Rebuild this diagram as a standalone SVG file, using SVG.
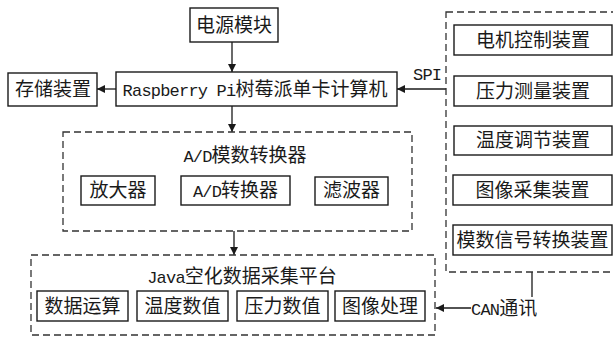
<svg xmlns="http://www.w3.org/2000/svg" width="613" height="337" viewBox="0 0 613 337">
<defs>
<style>
.box{fill:#fff;stroke:#1a1a1a;stroke-width:1.4}
.dash{fill:none;stroke:#333;stroke-width:1.3;stroke-dasharray:7 4}
.ln{fill:none;stroke:#1a1a1a;stroke-width:1.3}
text{font-family:"Liberation Mono","Noto Sans CJK SC",monospace;font-size:19px;fill:#1a1a1a}
.c{text-anchor:middle}
.lat{font-size:17px;letter-spacing:-0.8px}
</style>
<marker id="ah" viewBox="0 0 10 10" refX="10" refY="5" markerWidth="8" markerHeight="8" markerUnits="userSpaceOnUse" orient="auto">
<path d="M0,0 L10,5 L0,10 z" fill="#1a1a1a"/>
</marker>
</defs>
<rect width="613" height="337" fill="#fff"/>

<g id="connectors">
<line class="ln" x1="232" y1="42" x2="232" y2="72" marker-end="url(#ah)"/>
<line class="ln" x1="116" y1="89" x2="97" y2="89" marker-end="url(#ah)"/>
<line class="ln" x1="232" y1="106" x2="232" y2="132" marker-end="url(#ah)"/>
<line class="ln" x1="446" y1="89" x2="397" y2="89" marker-end="url(#ah)"/>
<line class="ln" x1="234" y1="231" x2="234" y2="255" marker-end="url(#ah)"/>
<line class="ln" x1="532" y1="272" x2="532" y2="297"/>
<line class="ln" x1="471" y1="308" x2="436" y2="308" marker-end="url(#ah)"/>
<text x="413" y="80" class="lat">SPI</text>
<text x="471" y="315"><tspan class="lat">CAN</tspan>通讯</text>
</g>

<g id="power">
<rect class="box" x="190" y="8" width="88" height="34"/>
<text class="c" x="234" y="31.5">电源模块</text>
</g>

<g id="rpi">
<rect class="box" x="116" y="72" width="281" height="34"/>
<text class="c" x="255" y="95.5"><tspan class="lat">Raspberry Pi</tspan>树莓派单卡计算机</text>
</g>

<g id="storage">
<rect class="box" x="8" y="73" width="89" height="33"/>
<text class="c" x="53" y="96">存储装置</text>
</g>

<g id="ad">
<rect class="dash" x="63" y="132" width="349" height="99"/>
<text class="c" x="245" y="161.5"><tspan class="lat">A/D</tspan>模数转换器</text>
<rect class="box" x="81" y="176" width="74" height="29"/>
<text class="c" x="118" y="197">放大器</text>
<rect class="box" x="181" y="176" width="109" height="29"/>
<text class="c" x="235.5" y="197"><tspan class="lat">A/D</tspan>转换器</text>
<rect class="box" x="315" y="177" width="73" height="28"/>
<text class="c" x="351.5" y="197">滤波器</text>
</g>

<g id="java">
<rect class="dash" x="31" y="255" width="404" height="80"/>
<text class="c" x="242" y="282.5"><tspan class="lat">Java</tspan>空化数据采集平台</text>
<rect class="box" x="37" y="291" width="91" height="30"/>
<text class="c" x="82.5" y="312.5">数据运算</text>
<rect class="box" x="137" y="291" width="91" height="30"/>
<text class="c" x="182.5" y="312.5">温度数值</text>
<rect class="box" x="237" y="291" width="91" height="30"/>
<text class="c" x="282.5" y="312.5">压力数值</text>
<rect class="box" x="335" y="291" width="90" height="30"/>
<text class="c" x="380" y="312.5">图像处理</text>
</g>

<g id="devices">
<rect class="dash" x="446" y="12" width="172" height="260"/>
<rect class="box" x="454" y="25" width="158" height="30"/>
<text class="c" x="533" y="46.5">电机控制装置</text>
<rect class="box" x="454" y="76" width="158" height="30"/>
<text class="c" x="533" y="97.5">压力测量装置</text>
<rect class="box" x="454" y="126" width="158" height="29"/>
<text class="c" x="533" y="147">温度调节装置</text>
<rect class="box" x="453" y="175" width="159" height="30"/>
<text class="c" x="532.5" y="196.5">图像采集装置</text>
<rect class="box" x="453" y="225" width="159" height="30"/>
<text class="c" x="532.5" y="246.5">模数信号转换装置</text>
</g>
</svg>
